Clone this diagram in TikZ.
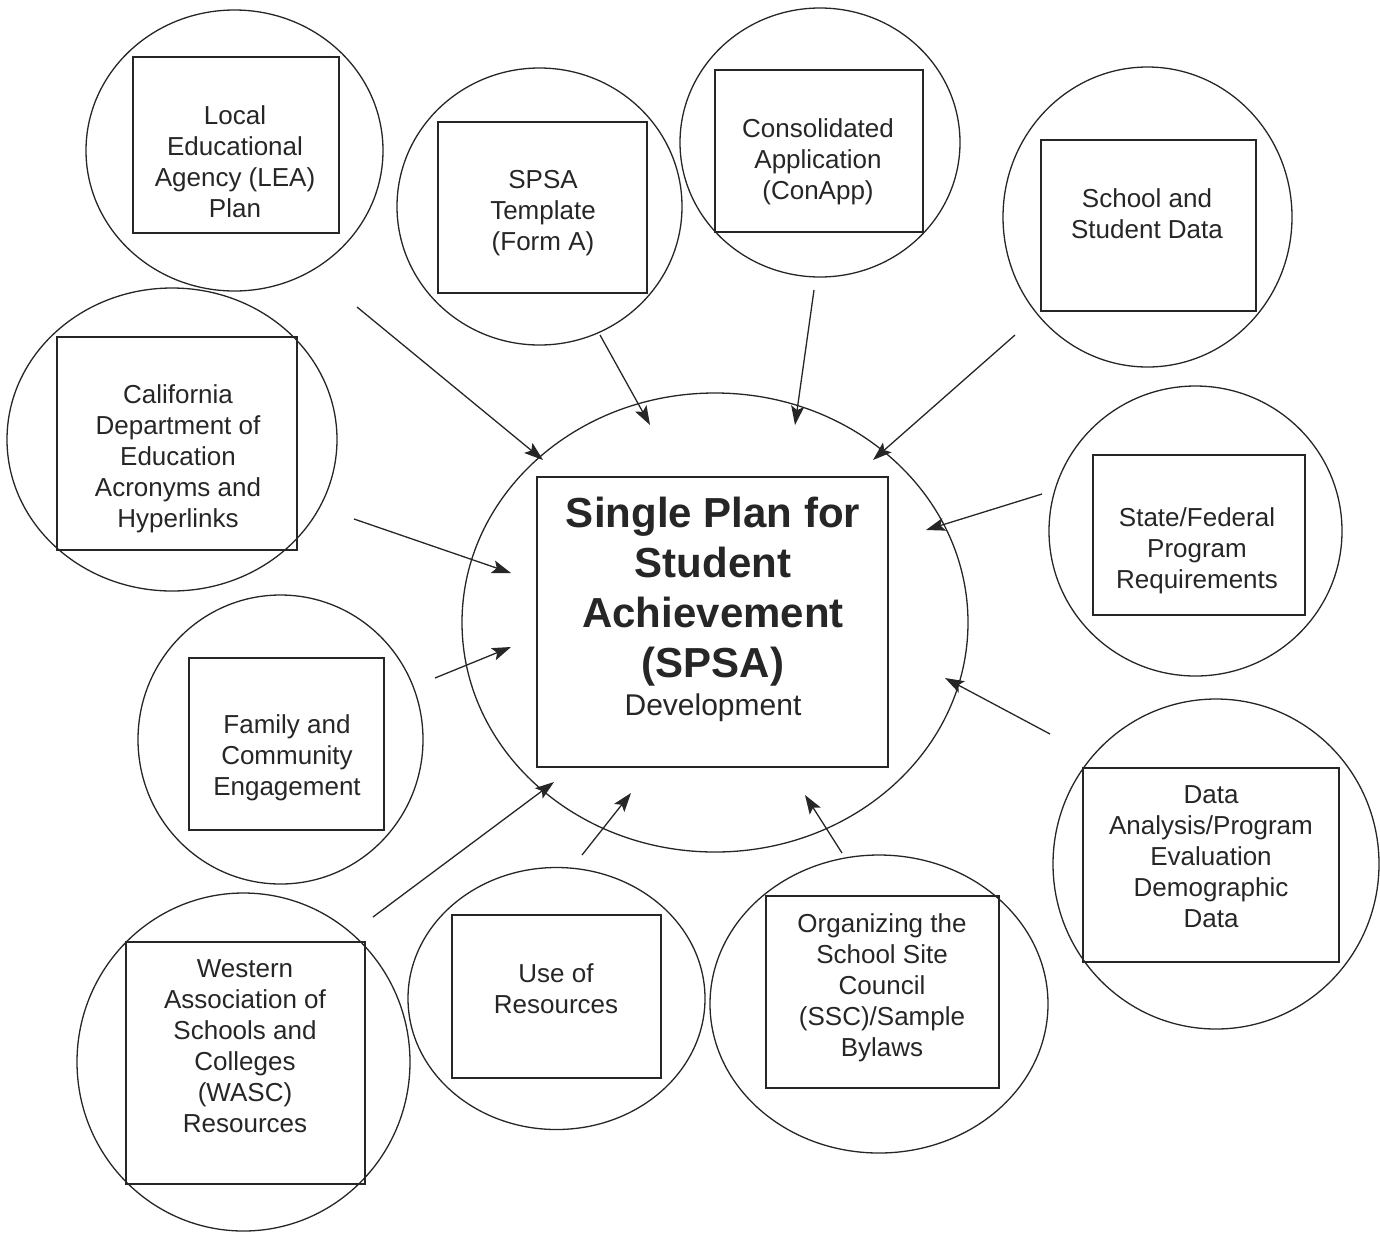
\documentclass[tikz,border=0pt]{standalone}
\usepackage{fontspec}
\setmainfont{Liberation Sans}
\usetikzlibrary{shapes.geometric,arrows.meta}

\tikzset{
  bubble/.style={draw,ellipse,inner sep=0pt,line width=1.3pt},
  frame/.style={draw,rectangle,inner sep=0pt,line width=1.3pt},
  blurb/.style={anchor=north,align=center,inner sep=0pt,font=\fontsize{26}{31}\selectfont},
  feed/.style={line width=1.3pt,-{Stealth[length=19pt,width=13pt,inset=4pt]}}
}

\begin{document}
\begin{tikzpicture}[x=1pt,y=-1pt,color=black!85]
		\useasboundingbox (0,0) rectangle (1380,1232);
		\node[bubble,minimum width=506pt,minimum height=459pt] (spsa) at (715,622.5) {};
		\node[bubble,minimum width=297pt,minimum height=281pt] (lea) at (234.5,150.5) {};
		\node[bubble,minimum width=285pt,minimum height=277pt] (tmpl) at (539.5,206.5) {};
		\node[bubble,minimum width=280pt,minimum height=269pt] (conapp) at (820,142.5) {};
		\node[bubble,minimum width=289pt,minimum height=300pt] (data) at (1147.5,217) {};
		\node[bubble,minimum width=330pt,minimum height=303pt] (cde) at (172,439.5) {};
		\node[bubble,minimum width=293pt,minimum height=290pt] (reqs) at (1195.5,531) {};
		\node[bubble,minimum width=285pt,minimum height=289pt] (family) at (280.5,739.5) {};
		\node[bubble,minimum width=326pt,minimum height=330pt] (eval) at (1216,864) {};
		\node[bubble,minimum width=333pt,minimum height=338pt] (wasc) at (243.5,1062) {};
		\node[bubble,minimum width=297pt,minimum height=262pt] (use) at (556.5,998.5) {};
		\node[bubble,minimum width=338pt,minimum height=298pt] (ssc) at (879,1004) {};

		\node[frame,minimum width=351pt,minimum height=290pt] (spsaBox) at (712.5,622) {};
		\node[frame,minimum width=206pt,minimum height=176pt] (leaBox) at (236,145) {};
		\node[frame,minimum width=209pt,minimum height=171pt] (tmplBox) at (542.5,207.5) {};
		\node[frame,minimum width=208pt,minimum height=162pt] (conappBox) at (819,151) {};
		\node[frame,minimum width=215pt,minimum height=171pt] (dataBox) at (1148.5,225.5) {};
		\node[frame,minimum width=240pt,minimum height=213pt] (cdeBox) at (177,443.5) {};
		\node[frame,minimum width=212pt,minimum height=160pt] (reqsBox) at (1199,535) {};
		\node[frame,minimum width=195pt,minimum height=172pt] (familyBox) at (286.5,744) {};
		\node[frame,minimum width=256pt,minimum height=194pt] (evalBox) at (1211,865) {};
		\node[frame,minimum width=239pt,minimum height=242pt] (wascBox) at (245.5,1063) {};
		\node[frame,minimum width=209pt,minimum height=163pt] (useBox) at (556.5,996.5) {};
		\node[frame,minimum width=233pt,minimum height=192pt] (sscBox) at (882.5,992) {};

		\node[anchor=north,align=center,inner sep=0pt,font=\fontsize{42}{50}\selectfont\bfseries] (spsaText) at (713,497) {Single Plan for\\Student\\Achievement\\(SPSA)};
		\node[anchor=base,inner sep=0pt,font=\fontsize{30}{36}\selectfont] (devText) at (713,715) {Development};
		\node[blurb] (leaText) at (235,105.5) {Local\\Educational\\Agency (LEA)\\Plan};
		\node[blurb] (tmplText) at (543,170.5) {SPSA\\Template\\(Form A)};
		\node[blurb] (conappText) at (818,118.5) {Consolidated\\Application\\(ConApp)};
		\node[blurb] (dataText) at (1147,188.5) {School and\\Student Data};
		\node[blurb] (cdeText) at (178,384.5) {California\\Department of\\Education\\Acronyms and\\Hyperlinks};
		\node[blurb] (reqsText) at (1197,507.5) {State/Federal\\Program\\Requirements};
		\node[blurb] (familyText) at (287,714.5) {Family and\\Community\\Engagement};
		\node[blurb] (evalText) at (1211,785.5) {Data\\Analysis/Program\\Evaluation\\Demographic\\Data};
		\node[blurb] (wascText) at (245,959.5) {Western\\Association of\\Schools and\\Colleges\\(WASC)\\Resources};
		\node[blurb] (useText) at (556,963.5) {Use of\\Resources};
		\node[blurb] (sscText) at (882,913.5) {Organizing the\\School Site\\Council\\(SSC)/Sample\\Bylaws};

		\coordinate (leaOut) at (357,307);   \coordinate (leaIn) at (543,460);
		\coordinate (tmplOut) at (600,335);  \coordinate (tmplIn) at (650,425);
		\coordinate (conappOut) at (814,290); \coordinate (conappIn) at (795,425);
		\coordinate (dataOut) at (1015,335); \coordinate (dataIn) at (873,460);
		\coordinate (cdeOut) at (354,519);   \coordinate (cdeIn) at (511,573);
		\coordinate (reqsOut) at (1042,494); \coordinate (reqsIn) at (926,530);
		\coordinate (familyOut) at (435,678); \coordinate (familyIn) at (511,647);
		\coordinate (evalOut) at (1050,734); \coordinate (evalIn) at (945,678);
		\coordinate (wascOut) at (373,917);  \coordinate (wascIn) at (554,782);
		\coordinate (useOut) at (582,855);   \coordinate (useIn) at (631,793);
		\coordinate (sscOut) at (842,853);   \coordinate (sscIn) at (805,795);
		\foreach \n in {lea, tmpl, conapp, data, cde, reqs, family, eval, wasc, use, ssc}{
			\draw[feed] (\n Out) -- (\n In);
		}
\end{tikzpicture}
\end{document}
